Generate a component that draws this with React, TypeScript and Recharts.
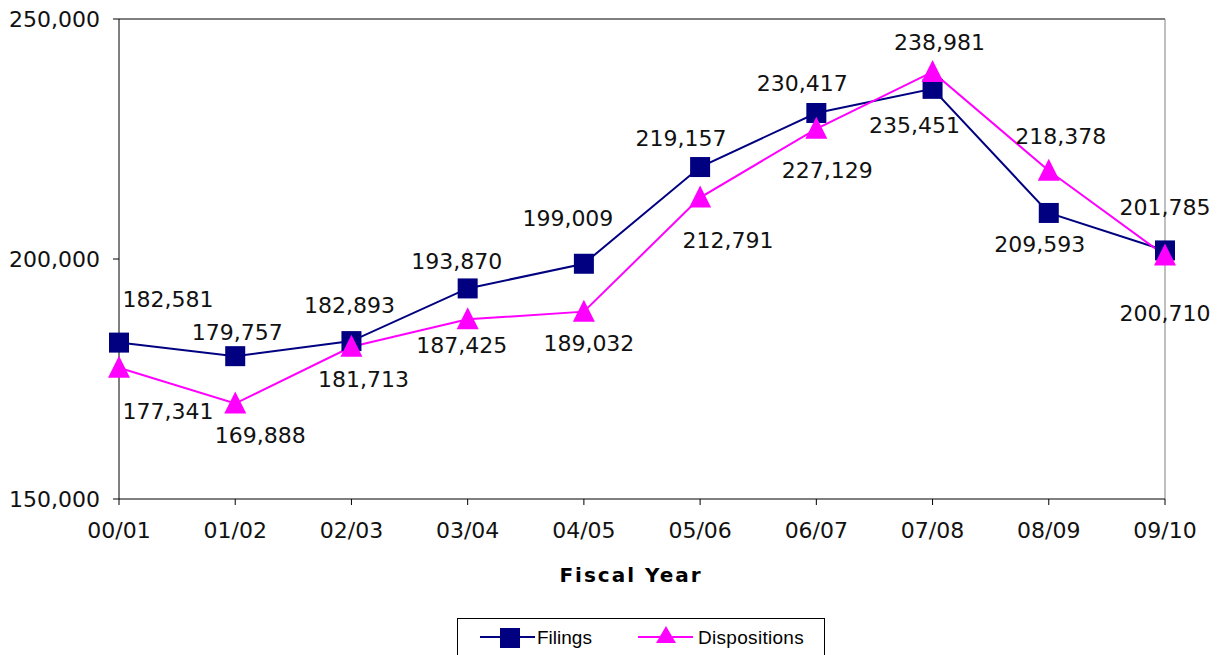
import React from 'react';
import { LineChart, Line, XAxis, YAxis, ReferenceLine, LabelList } from 'recharts';

const years = ['00/01', '01/02', '02/03', '03/04', '04/05', '05/06', '06/07', '07/08', '08/09', '09/10'];
const filings = [182581, 179757, 182893, 193870, 199009, 219157, 230417, 235451, 209593, 201785];
const dispositions = [177341, 169888, 181713, 187425, 189032, 212791, 227129, 238981, 218378, 200710];
const yTicks = [150000, 200000, 250000];

// label placement (dx, dy of text centre from point)
const filingsLabelOffsets = [
  [49, -43], [2, -24], [-2, -36], [-11, -27], [-16, -45], [-19, -29], [-14, -29], [-18, 37], [-9, 32], [0, -43],
];
const dispLabelOffsets = [
  [49, 44], [25, 32], [12, 33], [-6, 26], [5, 32], [28, 43], [11, 42], [7, -29], [12, -34], [0, 58],
];

const data = years.map((y, i) => ({ year: y, filings: filings[i], dispositions: dispositions[i] }));

const NAVY = '#000080';
const MAGENTA = '#FF00FF';
const FONT = '"DejaVu Sans", Verdana, sans-serif';

const fmt = (v: number) => v.toLocaleString('en-US');

const Square = (props: any) => {
  const { cx, cy } = props;
  if (cx == null || cy == null) return null;
  return <rect x={cx - 10} y={cy - 10} width={20} height={20} fill={NAVY} />;
};

const Triangle = (props: any) => {
  const { cx, cy } = props;
  if (cx == null || cy == null) return null;
  return <path d={`M${cx},${cy - 12} L${cx + 11},${cy + 10} L${cx - 11},${cy + 10} Z`} fill={MAGENTA} />;
};

const makeLabel = (offsets: number[][]) => (props: any) => {
  const { x, y, value, index } = props;
  const off = offsets[index] || [0, 0];
  return (
    <text
      x={x + off[0]}
      y={y + off[1]}
      textAnchor="middle"
      dominantBaseline="central"
      fontFamily={FONT}
      fontSize={22}
      fill="#111"
    >
      {fmt(value)}
    </text>
  );
};

const XLabel = (props: any) => {
  const vb = props.viewBox || { x: 119, y: 499, width: 1046 };
  return (
    <text
      x={vb.x + vb.width / 2 - 11}
      y={582}
      textAnchor="middle"
      fontFamily={FONT}
      fontWeight="bold"
      fontSize={20}
      letterSpacing={2}
      fill="#000"
    >
      Fiscal Year
    </text>
  );
};

export default function App() {
  return (
    <div style={{ position: 'absolute', left: 0, top: 0, width: 1217, height: 655, background: '#fff' }}>
      <LineChart width={1217} height={655} data={data} margin={{ top: 19, right: 52, left: 0, bottom: 56 }}>
        <XAxis
          dataKey="year"
          height={100}
          tickSize={6}
          tickMargin={17}
          tick={{ fontFamily: FONT, fontSize: 22, fill: '#111' }}
          axisLine={{ stroke: '#000', strokeWidth: 1 }}
          tickLine={{ stroke: '#000', strokeWidth: 1 }}
          label={<XLabel />}
        />
        <YAxis
          width={119}
          domain={[150000, 250000]}
          ticks={yTicks}
          tickFormatter={fmt}
          tickSize={6}
          tickMargin={13}
          tick={{ fontFamily: FONT, fontSize: 22, fill: '#111' }}
          axisLine={{ stroke: '#000', strokeWidth: 1 }}
          tickLine={{ stroke: '#000', strokeWidth: 1 }}
        />
        <ReferenceLine y={250000} stroke="#000" strokeWidth={1} />
        <ReferenceLine x="09/10" stroke="#808080" strokeWidth={1} />
        <Line
          dataKey="filings"
          stroke={NAVY}
          strokeWidth={2}
          dot={<Square />}
          activeDot={false}
          isAnimationActive={false}
        >
          <LabelList dataKey="filings" content={makeLabel(filingsLabelOffsets)} />
        </Line>
        <Line
          dataKey="dispositions"
          stroke={MAGENTA}
          strokeWidth={2}
          dot={<Triangle />}
          activeDot={false}
          isAnimationActive={false}
        >
          <LabelList dataKey="dispositions" content={makeLabel(dispLabelOffsets)} />
        </Line>
      </LineChart>
      <svg
        style={{ position: 'absolute', left: 457, top: 618 }}
        width={368}
        height={40}
      >
        <rect x={0.5} y={0.5} width={367} height={45} fill="#fff" stroke="#000" strokeWidth={1} />
        <line x1={23} y1={19} x2={78} y2={19} stroke={NAVY} strokeWidth={2} />
        <rect x={43} y={10} width={20} height={20} fill={NAVY} />
        <text x={80} y={19} dominantBaseline="central" fontFamily='"Liberation Sans", Arial, sans-serif' fontSize={19} fill="#000">
          Filings
        </text>
        <line x1={181} y1={19} x2={236} y2={19} stroke={MAGENTA} strokeWidth={2} />
        <path d="M209,8 L219,25 L199,25 Z" fill={MAGENTA} />
        <text x={241} y={19} dominantBaseline="central" fontFamily='"Liberation Sans", Arial, sans-serif' fontSize={19} letterSpacing={0.3} fill="#000">
          Dispositions
        </text>
      </svg>
    </div>
  );
}
